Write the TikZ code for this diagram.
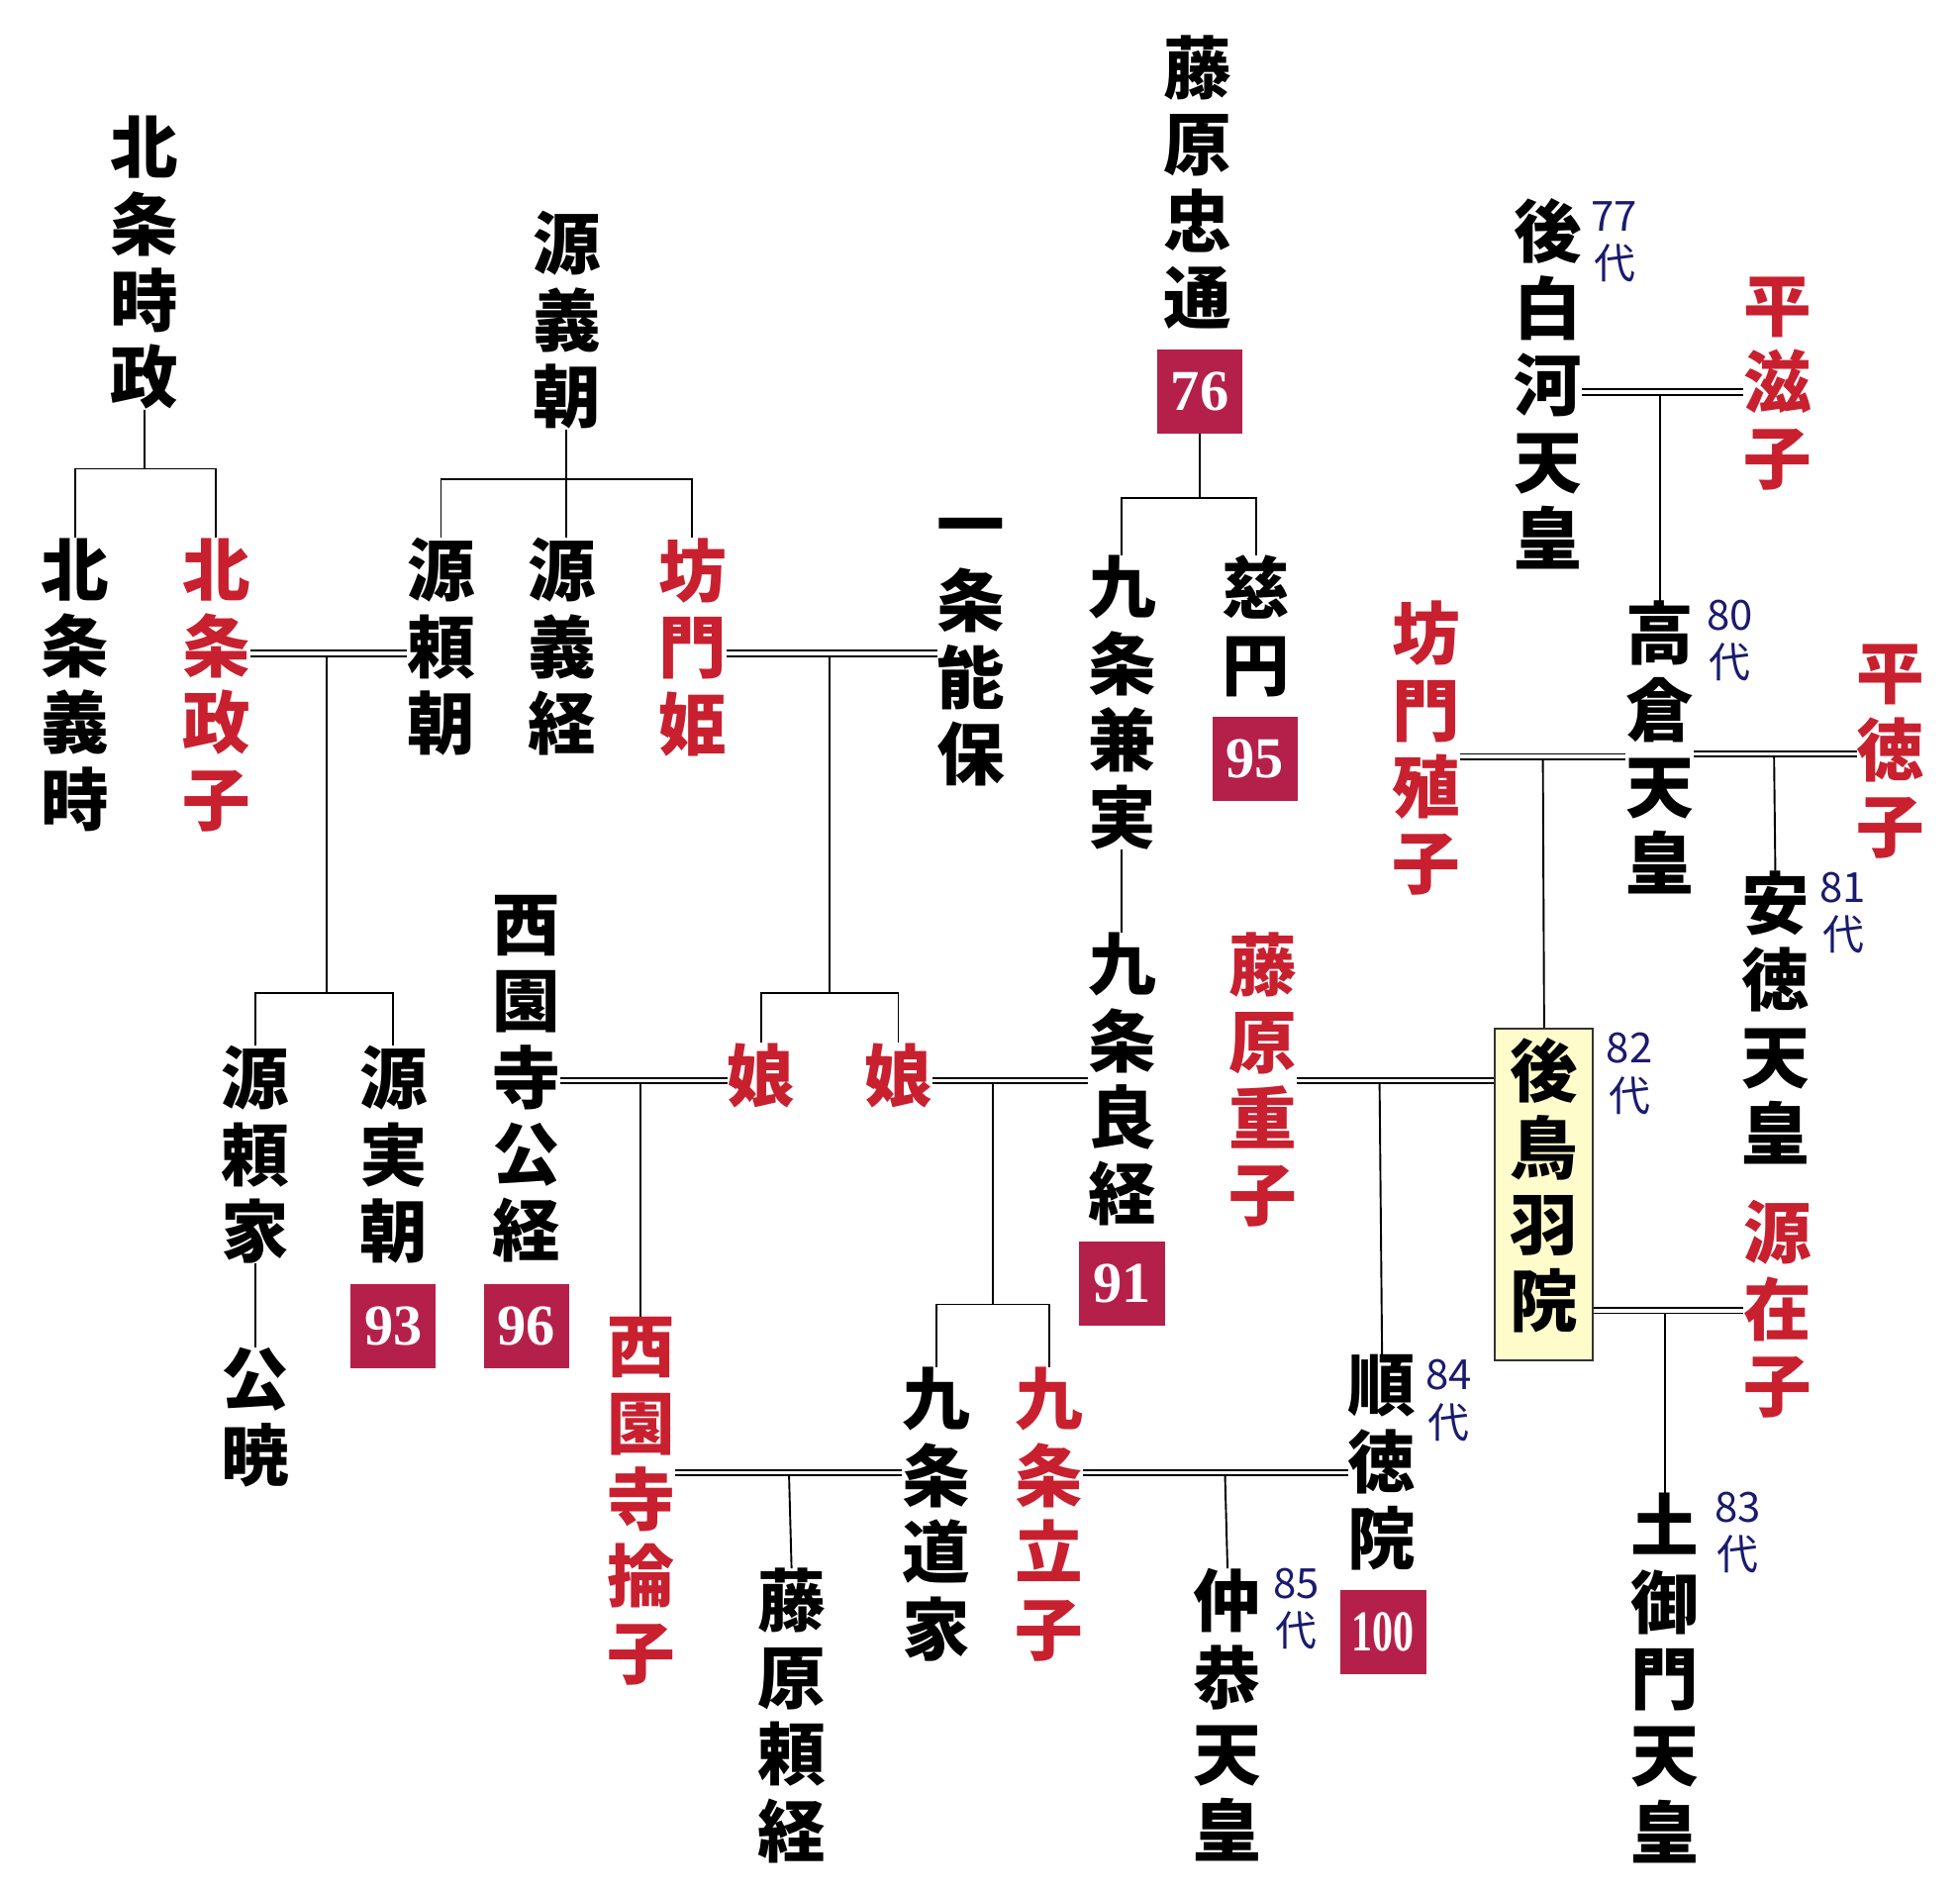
\documentclass[tikz,border=0pt]{standalone}
\usepackage{fontspec}
\newfontfamily\jp{Noto Sans CJK JP}
\newfontfamily\num{Liberation Serif}
\definecolor{jred}{HTML}{C8202F}
\definecolor{crim}{HTML}{B5204A}
\definecolor{navy}{HTML}{1A1A6E}
\begin{document}
\begin{tikzpicture}[x=1pt,y=-1pt,
 v/.style={inner sep=0pt,anchor=north,align=center,font=\jp\bfseries\fontsize{54}{61}\selectfont},
 r/.style={v,text=jred},
 nb/.style={fill=crim,text=white,minimum width=68pt,minimum height=67pt,inner sep=0pt,anchor=north,font=\num\bfseries\fontsize{46}{46}\selectfont},
 dai/.style={inner sep=0pt,anchor=north,align=center,text=navy,font=\jp\fontsize{33}{38}\selectfont},
 s/.style={line width=1.5pt},
 d/.style={line width=1.3pt,double=white,double distance=3pt}]
\useasboundingbox (5,0) rectangle (1565,1505);
% nodes
\node[v] (tokimasa) at (120,92) {北\\条\\時\\政};
\node[v] (yoshitoki) at (65,428) {北\\条\\義\\時};
\node[r] (masako) at (177,428) {北\\条\\政\\子};
\node[v] (yoshitomo) at (456,168) {源\\義\\朝};
\node[v] (yoritomo) at (356,428) {源\\頼\\朝};
\node[v] (yoshitsune) at (452,428) {源\\義\\経};
\node[r] (bomonhime) at (556,428) {坊\\門\\姫};
\node[v] (yoshiyasu) at (778,412) {一\\条\\能\\保};
\node[v] (yoriie) at (208,832) {源\\頼\\家};
\node[v] (kugyo) at (208,1072) {公\\暁};
\node[v] (sanetomo) at (318,832) {源\\実\\朝};
\node[nb] (n93) at (318,1022) {93};
\node[v] (kintsune) at (424,712) {西\\園\\寺\\公\\経};
\node[nb] (n96) at (424,1022) {96};
\node[r] (musume1) at (611,830) {娘};
\node[r] (musume2) at (720,830) {娘};
\node[r] (rinshi) at (515,1048) {西\\園\\寺\\掄\\子};
\node[v] (michiie) at (750,1088) {九\\条\\道\\家};
\node[r] (ritsushi) at (840,1088) {九\\条\\立\\子};
\node[v] (yoritsune) at (635,1248) {藤\\原\\頼\\経};
\node[v] (tadamichi) at (958,28) {藤\\原\\忠\\通};
\node[nb] (n76) at (960,278) {76};
\node[v] (kanezane) at (898,442) {九\\条\\兼\\実};
\node[v] (yoshitsune2) at (898,742) {九\\条\\良\\経};
\node[nb] (n91) at (898,988) {91};
\node[v] (jien) at (1005,442) {慈\\円};
\node[nb] (n95) at (1004,570) {95};
\node[r] (shigeko) at (1010,742) {藤\\原\\重\\子};
\node[v] (juntoku) at (1105,1078) {順\\徳\\院};
\node[dai] at (1158,1082) {84\\代};
\node[nb] (n100) at (1106,1265) {\fontsize{46}{46}\selectfont\scalebox{0.72}[1]{100}};
\node[v] (chukyo) at (982,1248) {仲\\恭\\天\\皇};
\node[dai] at (1037,1248) {85\\代};
\node[v] (goshirakawa) at (1237,158) {後\\白\\河\\天\\皇};
\node[dai] at (1290,160) {77\\代};
\node[r] (shigeko2) at (1420,220) {平\\滋\\子};
\node[v] (takakura) at (1326,478) {高\\倉\\天\\皇};
\node[dai] at (1382,477) {80\\代};
\node[r] (shokushi) at (1140,478) {坊\\門\\殖\\子};
\node[r] (tokuko) at (1510,513) {平\\徳\\子};
\node[v] (antoku) at (1418,693) {安\\徳\\天\\皇};
\node[dai] at (1472,694) {81\\代};
\node[draw=black!80,line width=1.5pt,fill=yellow!20,minimum width=78pt,minimum height=264pt,inner sep=0pt,anchor=north] (gotoba) at (1234,818) {};
\node[v] (gotobat) at (1234,826) {後\\鳥\\羽\\院};
\node[dai] at (1302,822) {82\\代};
\node[r] (ariko) at (1420,955) {源\\在\\子};
\node[v] (tsuchimikado) at (1330,1188) {土\\御\\門\\天\\皇};
\node[dai] at (1388,1187) {83\\代};
% connectors
\draw[s] (tokimasa.south) -- ++(0,47) coordinate (c1) -| (yoshitoki.north);
\draw[s] (c1) -| (masako.north);
\draw[s] (yoshitomo.south) -- ++(0,40) coordinate (c2) -| (yoritomo.north);
\draw[s] (c2) -| (bomonhime.north);
\draw[s] (c2) -- (yoshitsune.north -| c2);
\draw[d] (masako.east|-0,520) -- (yoritomo.west|-0,520);
\draw[s] (265,522) -- (265,790) coordinate (c3) -| (yoriie.north);
\draw[s] (c3) -| (sanetomo.north);
\draw[d] (bomonhime.east|-0,520) -- (yoshiyasu.west|-0,520);
\draw[s] (665,522) -- (665,790) coordinate (c4) -| (musume1.north);
\draw[s] (c4) -| (musume2.north);
\draw[s] (yoriie.south) -- (kugyo.north);
\draw[d] (kintsune.east|-0,860) -- (musume1.west|-0,860);
\draw[s] (515,862) -- (rinshi.north);
\draw[d] (musume2.east|-0,860) -- (yoshitsune2.west|-0,860);
\draw[s] (795,862) -- (795,1038) coordinate (c5) -| (michiie.north);
\draw[s] (c5) -| (ritsushi.north);
\draw[d] (rinshi.east|-0,1172) -- (michiie.west|-0,1172);
\draw[s] (633,1174) -- (yoritsune.north);
\draw[s] (n76.south) -- ++(0,51) coordinate (c6) -| (kanezane.north);
\draw[s] (c6) -| (jien.north);
\draw[s] (kanezane.south) -- (yoshitsune2.north);
\draw[d] (shigeko.east|-0,860) -- (gotoba.west|-0,860);
\draw[s] (1103,862) -- (juntoku.north);
\draw[d] (ritsushi.east|-0,1172) -- (juntoku.west|-0,1172);
\draw[s] (980,1174) -- (chukyo.north);
\draw[d] (goshirakawa.east|-0,312) -- (shigeko2.west|-0,312);
\draw[s] (1326,314) -- (takakura.north);
\draw[d] (shokushi.east|-0,602) -- (takakura.west|-0,602);
\draw[s] (1233,604) -- (gotoba.north);
\draw[d] (takakura.east|-0,600) -- (tokuko.west|-0,600);
\draw[s] (1417,602) -- (antoku.north);
\draw[d] (gotoba.east|-0,1043) -- (ariko.west|-0,1043);
\draw[s] (1330,1045) -- (tsuchimikado.north);
\end{tikzpicture}
\end{document}
